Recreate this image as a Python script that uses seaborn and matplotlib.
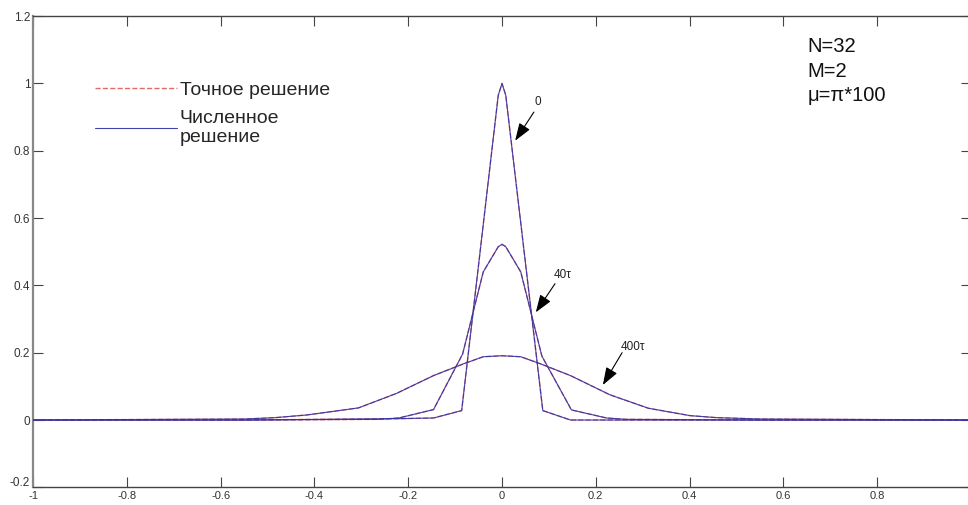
import matplotlib
matplotlib.use("Agg")
import matplotlib.pyplot as plt
import matplotlib.transforms as mtransforms
import seaborn as sns
import numpy as np
import pandas as pd

# ---- data ----
x_init = [-1.0, -0.55, -0.22, -0.146, -0.086, -0.008, 0.0, 0.008, 0.087, 0.146, 0.22, 0.55, 1.0]
y_init = [0.0, 0.0, 0.004, 0.006, 0.028, 0.965, 1.0, 0.965, 0.028, 0.0, 0.0, 0.0, 0.0]

x_40 = [-1.0, -0.55, -0.264, -0.22, -0.146, -0.084, -0.040, -0.008, 0.0, 0.008, 0.040, 0.085, 0.148, 0.223, 0.264, 0.55, 1.0]
y_40 = [0.0, 0.0, 0.002, 0.006, 0.031, 0.196, 0.44, 0.515, 0.522, 0.515, 0.44, 0.19, 0.03, 0.006, 0.002, 0.0, 0.0]

x_400 = [-1.0, -0.548, -0.484, -0.416, -0.306, -0.225, -0.146, -0.082, -0.040, 0.0,
         0.040, 0.082, 0.146, 0.230, 0.312, 0.401, 0.458, 0.55, 1.0]
y_400 = [0.0, 0.003, 0.007, 0.015, 0.036, 0.079, 0.132, 0.167, 0.188, 0.191,
         0.188, 0.167, 0.132, 0.075, 0.035, 0.013, 0.007, 0.003, 0.0]

labels_curves = ["0", "40\u03c4", "400\u03c4"]
label_xy = [(0.076, 0.945), (0.129, 0.43), (0.28, 0.218)]
arrow_tail = [(0.068, 0.915), (0.113, 0.405), (0.256, 0.2)]
arrow_head = [(0.028, 0.83), (0.072, 0.32), (0.215, 0.104)]

legend_labels = ["Точное решение", "Численное\nрешение"]
params_text = "N=32\nM=2\n\u03bc=\u03c0*100"

xticks = [-1, -0.8, -0.6, -0.4, -0.2, 0, 0.2, 0.4, 0.6, 0.8, 1]
yticks = [-0.2, 0, 0.2, 0.4, 0.6, 0.8, 1, 1.2]

# ---- plotting ----
sns.set_theme(style="white")
plt.rcParams['font.family'] = ['Liberation Sans', 'DejaVu Sans']

fig = plt.figure(figsize=(9.68, 5.05), dpi=100)
ax = fig.add_axes([0.0341, 0.035, 0.969, 0.933])

blue = "#3232a6"
red = "#e06a6a"

curves = [(x_init, y_init), (x_40, y_40), (x_400, y_400)]
for i, (xs, ys) in enumerate(curves):
    df = pd.DataFrame({"x": xs, "y": ys})
    sns.lineplot(data=df, x="x", y="y", ax=ax, sort=False, estimator=None,
                 color=red, linestyle="--", linewidth=1.0,
                 label=legend_labels[0] if i == 0 else None, zorder=2)
for i, (xs, ys) in enumerate(curves):
    df = pd.DataFrame({"x": xs, "y": ys})
    sns.lineplot(data=df, x="x", y="y", ax=ax, sort=False, estimator=None,
                 color=blue, linewidth=0.8, alpha=0.92,
                 label=legend_labels[1] if i == 0 else None, zorder=3)

for lab, lxy, tail, head in zip(labels_curves, label_xy, arrow_tail, arrow_head):
    ax.annotate("", xy=head, xytext=tail,
                arrowprops=dict(arrowstyle="-|>,head_length=0.9,head_width=0.32",
                                color="black", lw=0.8, shrinkA=0, shrinkB=0))
    ax.text(lxy[0], lxy[1], lab, fontsize=8.5, ha="center", va="center", color="#222222")

ax.text(0.652, 1.138, params_text, fontsize=14.5, ha="left", va="top",
        linespacing=1.38, color="#111111")

ax.set_xlim(-1, 1)
ax.set_ylim(-0.2, 1.2)
ax.set_xticks(xticks)
ax.set_yticks(yticks)
xlabels = [("%g" % t) for t in xticks]
xlabels[-1] = ""  # falls outside the picture in the reference
ax.set_xticklabels(xlabels, fontsize=8, color="#333333",
                   fontfamily=["Liberation Sans Narrow", "Liberation Sans"])
ax.set_yticklabels([("%g" % t) for t in yticks], fontsize=8.5, color="#333333")
ax.set_xlabel("")
ax.set_ylabel("")
ax.tick_params(direction="in", length=7, width=0.8, color="#444444",
               top=True, right=True, bottom=True, left=True, pad=2)
ax.tick_params(axis="x", pad=3)
for s in ax.spines.values():
    s.set_color("#444444")
    s.set_linewidth(1.0)
    s.set_visible(True)
ax.spines["left"].set_color("#888888")
ax.spines["left"].set_linewidth(1.6)

# lift the bottom y label a little, as in the reference
lowest = ax.get_yticklabels()[0]
lowest.set_transform(lowest.get_transform() +
                     mtransforms.ScaledTranslation(0, 4 / 72, fig.dpi_scale_trans))

leg = ax.legend(loc="upper left", bbox_to_anchor=(0.058, 0.878), frameon=False,
                fontsize=14, handlelength=4.2, handletextpad=0.15,
                labelspacing=0.55, borderaxespad=0)

fig.savefig("out.png", dpi=100, facecolor="white")
